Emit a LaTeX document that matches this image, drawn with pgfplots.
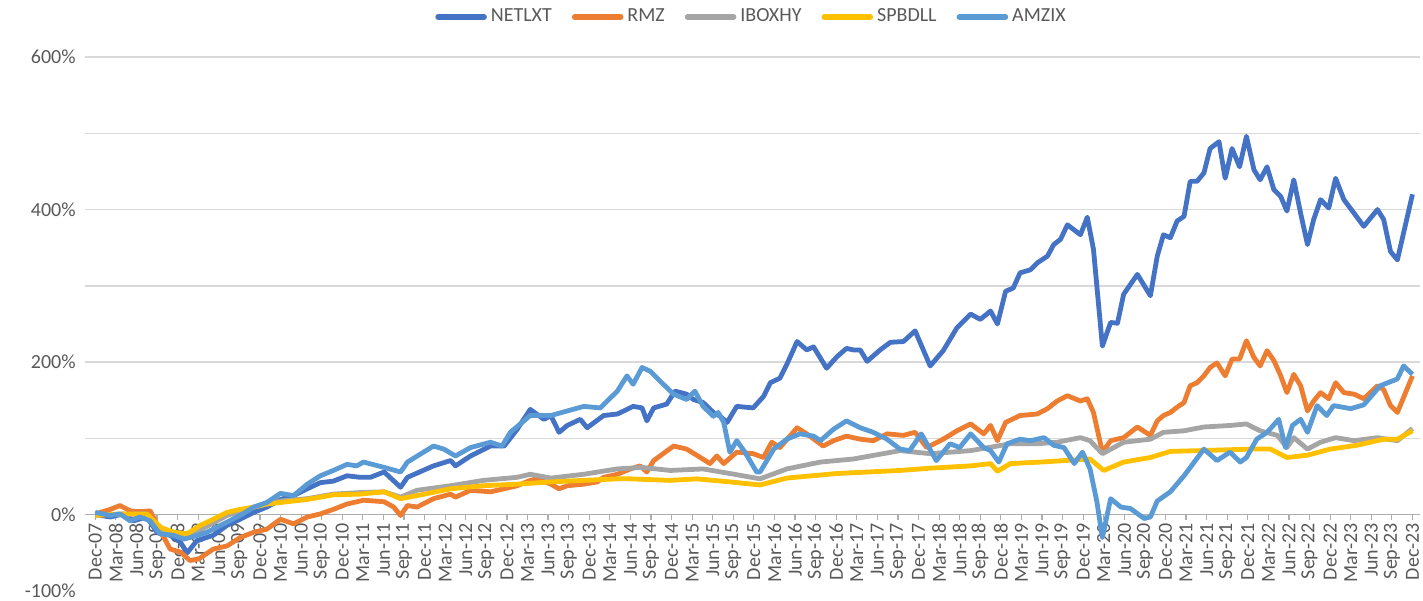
\documentclass[border=0pt]{standalone}
\usepackage{pgfplots}
\pgfplotsset{compat=1.18}
\usepackage{fontspec}
\setmainfont{Carlito}
\definecolor{cNET}{HTML}{4472C4}
\definecolor{cRMZ}{HTML}{ED7D31}
\definecolor{cIBO}{HTML}{A5A5A5}
\definecolor{cSPB}{HTML}{FFC000}
\definecolor{cAMZ}{HTML}{5B9BD5}
\definecolor{txt}{HTML}{595959}
\definecolor{grd}{HTML}{D9D9D9}
\begin{document}
\begin{tikzpicture}
\begin{axis}[
  name=ax,
  scale only axis,
  width=667.5pt, height=267pt,
  xmin=-1.5, xmax=193.1,
  ymin=-100, ymax=600,
  axis x line*=middle,
  axis y line*=left,
  y axis line style={draw=none},
  x axis line style={draw=grd!80!black, line width=0.75pt, -},
  tick align=outside,
  xtick={0,3,...,192},
  xticklabels={Dec-07,Mar-08,Jun-08,Sep-08,Dec-08,Mar-09,Jun-09,Sep-09,Dec-09,Mar-10,Jun-10,Sep-10,Dec-10,Mar-11,Jun-11,Sep-11,Dec-11,Mar-12,Jun-12,Sep-12,Dec-12,Mar-13,Jun-13,Sep-13,Dec-13,Mar-14,Jun-14,Sep-14,Dec-14,Mar-15,Jun-15,Sep-15,Dec-15,Mar-16,Jun-16,Sep-16,Dec-16,Mar-17,Jun-17,Sep-17,Dec-17,Mar-18,Jun-18,Sep-18,Dec-18,Mar-19,Jun-19,Sep-19,Dec-19,Mar-20,Jun-20,Sep-20,Dec-20,Mar-21,Jun-21,Sep-21,Dec-21,Mar-22,Jun-22,Sep-22,Dec-22,Mar-23,Jun-23,Sep-23,Dec-23},
  x tick style={draw=grd!80!black, line width=0.6pt},
  major tick length=2.5pt,
  xticklabel style={rotate=90, anchor=east, inner sep=1.5pt, font=\fontsize{10}{12}\selectfont, text=txt},
  ytick={0,100,...,600},
  yticklabels={0\%,,200\%,,400\%,,600\%},
  y tick style={draw=none},
  yticklabel style={font=\fontsize{10}{12}\selectfont, text=txt, inner sep=2pt},
  extra y ticks={-100},
  extra y tick labels={-100\%},
  extra y tick style={grid=none, yticklabel style={font=\fontsize{10}{12}\selectfont, text=txt}},
  ymajorgrids,
  grid style={draw=grd, line width=0.75pt},
  legend style={at={(0.5,1)}, anchor=center, yshift=20pt, draw=none, fill=none,
    font=\fontsize{10}{12}\selectfont, text=txt, legend columns=-1,
    /tikz/every even column/.append style={column sep=8pt}},
  legend image code/.code={\draw[#1, line width=2.8pt, line cap=round] (0pt,0pt) -- (23pt,0pt);},
  every axis plot/.append style={line width=2.4pt, line join=round, no markers},
  clip=false,
]
\addplot[cNET] coordinates {
(0,0)(2.2,-3)(4.1,1)(5.6,-8)(7.5,-3)(9,-23)(10.9,-27)(12.4,-36)(13.4,-50)(14.8,-34)
(17.2,-27)(19.2,-14)(21.1,-6)(23.1,3)(25,10)(27,20)(28.9,25)(30.9,34)(32.8,42)(34.7,44)
(36.7,51)(38.6,49)(40.1,49)(42.1,56)(44.5,36)(45.5,49)(49.3,64)(51.8,71)(52.5,64)(54.7,77)
(57.6,90)(59.6,90)(61.5,112)(63.4,138)(65.4,125)(66.4,130)(67.6,108)(68.8,117)(70.7,125)(71.7,114)
(74.1,130)(76.1,132)(77.5,138)(78.4,142)(79.7,140)(80.4,123)(81.4,140)(83.3,145)(84.5,162)(86.2,158)
(87.2,151)(88.6,147)(90.1,134)(91.1,129)(92.1,121)(93.5,142)(95.9,140)(97.4,155)(98.4,173)(99.8,179)
(100.8,197)(102.3,227)(103.7,216)(104.7,220)(106.6,192)(108.1,207)(109.5,218)(110.5,216)(111.5,216)(112.5,201)
(114.4,216)(115.9,226)(117.8,227)(119.5,241)(121.7,195)(123.6,215)(125.6,245)(127.6,263)(129,256)(130.5,267)
(131.5,250)(132.7,293)(133.8,297)(134.8,317)(136.3,321)(137.3,330)(138.8,339)(139.7,354)(140.7,361)(141.7,380)
(143.6,367)(144.6,390)(145.5,348)(146.8,221)(148,252)(149,251)(149.9,289)(151.9,315)(153.8,287)(154.8,339)
(155.7,367)(156.7,363)(157.7,385)(158.7,391)(159.6,437)(160.6,437)(161.6,448)(162.5,480)(163.8,489)(164.7,441)
(165.7,480)(166.8,456)(167.8,496)(168.9,452)(169.8,439)(170.8,456)(171.8,426)(172.8,417)(173.7,398)(174.7,439)
(175.7,395)(176.7,354)(177.6,387)(178.6,413)(179.8,402)(180.8,441)(182,413)(183.5,395)(184.9,378)(186.9,400)
(187.8,387)(188.8,345)(189.8,334)(192,420)
};
\addlegendentry{NETLXT}
\addplot[cRMZ] coordinates {
(0,1)(2.2,7)(3.6,12)(5.1,5)(6.5,4)(8,5)(9.6,-23)(10.9,-45)(12.4,-49)(13.8,-60)
(15.1,-58)(17.2,-45)(19.2,-41)(21.1,-30)(23.1,-23)(25,-19)(27,-6)(28.9,-12)(30.9,-3)(32.8,1)
(34.7,7)(36.7,14)(39.1,19)(42.1,17)(43.5,10)(44.5,-1)(45.5,12)(46.9,10)(49.3,21)(51.8,27)
(52.5,23)(54.7,32)(57.6,30)(59.6,34)(61.5,38)(63.4,45)(64.4,47)(66.4,40)(67.6,34)(68.8,38)
(71.2,40)(73.2,43)(74.1,49)(76.1,53)(78,60)(79.4,64)(80.4,56)(81.4,71)(84.3,90)(86.2,86)
(88.2,75)(89.6,67)(90.6,77)(91.6,67)(93.5,82)(95.9,80)(97.4,75)(98.6,95)(99.8,88)(102.3,114)
(103.7,106)(106.1,90)(107.6,97)(109.5,103)(111.5,99)(113.4,97)(115.4,106)(117.8,104)(119.5,108)(121.2,88)
(123.6,99)(125.6,110)(127.6,119)(129.5,106)(130.5,117)(131.5,97)(132.7,121)(134.8,130)(137.3,132)(138.8,139)
(140.2,149)(141.7,156)(143.6,149)(144.6,152)(145.5,134)(146.8,82)(148,97)(149.9,101)(151.9,115)(153.8,104)
(154.8,123)(155.7,130)(156.7,134)(157.7,141)(158.7,147)(159.6,169)(160.6,173)(161.6,182)(162.5,193)(163.5,199)
(164.7,182)(165.7,204)(166.8,204)(167.8,228)(168.9,206)(169.8,195)(170.8,215)(171.8,202)(172.8,182)(173.7,160)
(174.7,184)(175.7,169)(176.7,136)(177.6,149)(178.6,160)(179.8,152)(180.8,173)(182,160)(183.5,158)(184.9,152)
(186.9,169)(187.8,164)(188.8,143)(189.8,134)(192,182)
};
\addlegendentry{RMZ}
\addplot[cIBO] coordinates {
(0,0)(7.5,1)(9.6,-19)(12.4,-27)(15.1,-21)(19.2,-1)(23.1,10)(27,18)(30.9,21)(34.7,27)
(38.6,29)(42.1,30)(44.5,23)(46.9,32)(51.8,38)(56.6,45)(61.5,49)(63.4,53)(66.4,48)(71.2,53)
(76.1,60)(79.7,62)(83.8,58)(88.6,60)(92.5,54)(96.9,47)(100.8,60)(105.7,69)(110.5,73)(117.3,84)
(121.7,80)(127.6,84)(133.4,93)(137.3,93)(140.2,95)(143.6,101)(145,97)(146.8,80)(149.9,95)(153.8,99)
(155.7,108)(158.7,110)(161.6,115)(165.5,117)(167.8,119)(169.8,110)(172.3,104)(173.7,88)(174.7,101)(176.7,86)
(178.6,95)(180.8,101)(183.5,97)(186.9,101)(189.8,97)(192,113)
};
\addlegendentry{IBOXHY}
\addplot[cSPB] coordinates {
(0,-1)(3.6,1)(7.5,1)(9.6,-17)(11.5,-23)(13.4,-25)(15.3,-14)(17.2,-6)(19.2,3)(21.1,7)
(23.1,10)(25,14)(27,16)(30.9,20)(34.7,26)(38.6,27)(42.1,30)(44.5,21)(46.9,25)(51.8,34)
(56.6,38)(61.5,40)(66.4,43)(71.2,45)(76.1,47)(78,47)(83.8,45)(87.7,47)(92.5,43)(96.9,39)
(100.8,48)(108.1,54)(117.3,58)(121.7,61)(127.6,64)(130.5,67)(131.5,57)(133.4,67)(137.8,69)(145,73)
(147,58)(149.9,69)(153.8,75)(156.7,83)(161.1,84)(168.4,86)(171.3,86)(173.7,75)(176.7,78)(180,86)
(183.9,91)(187.8,99)(189.8,99)(192,110)
};
\addlegendentry{SPBDLL}
\addplot[cAMZ] coordinates {
(0,3)(2.2,-1)(3.6,1)(5.1,-8)(6.5,-3)(8,-8)(9.4,-25)(11.4,-27)(12.9,-32)(13.8,-30)
(16.3,-23)(18.7,-12)(21.1,-1)(23.1,10)(25,16)(27,28)(28.9,25)(30.9,40)(32.8,51)(34.7,58)
(36.7,66)(38.1,64)(39.1,69)(42.1,62)(44.5,56)(45.5,69)(49.3,90)(50.8,86)(52.5,77)(54.7,88)
(57.6,95)(59.3,90)(60.5,108)(63.4,130)(66.4,130)(68.8,136)(71.2,142)(73.6,140)(76.1,162)(77.5,182)
(78.4,171)(79.7,193)(80.9,188)(82.8,171)(84.3,158)(86.2,151)(87.4,162)(88.6,142)(90.1,129)(90.8,134)
(91.6,121)(92.5,82)(93.5,97)(94.7,82)(96.4,56)(96.9,56)(98.9,86)(100.8,99)(102.7,106)(104.7,103)
(105.7,97)(107.6,112)(109.5,123)(111.5,114)(113.4,108)(115.4,99)(117.3,86)(118.7,84)(120.4,106)(122.6,71)
(124.6,93)(126,88)(127.6,106)(129.5,88)(130.5,84)(131.7,69)(132.9,93)(134.8,99)(136.3,97)(138.3,101)
(139.7,91)(141.2,88)(142.7,67)(143.9,82)(145,60)(146,17)(146.8,-30)(148,21)(149.5,10)(150.9,8)
(152.9,-5)(153.8,-3)(154.8,18)(156.7,30)(158.7,51)(161.6,86)(163.5,71)(165.4,82)(166.9,69)(167.8,75)
(169.3,99)(170.8,108)(172.5,125)(173.5,88)(174.5,117)(175.7,125)(176.7,108)(178.1,143)(179.5,130)(180.5,143)
(183,139)(184.9,144)(187.3,169)(189.8,178)(190.7,195)(192,184)
};
\addlegendentry{AMZIX}
\end{axis}
\path (ax.south west) ++(-42.5pt,-5pt) coordinate (bl);
\path (ax.north east) ++(1.5pt,28.5pt) coordinate (tr);
\pgfresetboundingbox
\useasboundingbox (bl) rectangle (tr);
\end{tikzpicture}
\end{document}
